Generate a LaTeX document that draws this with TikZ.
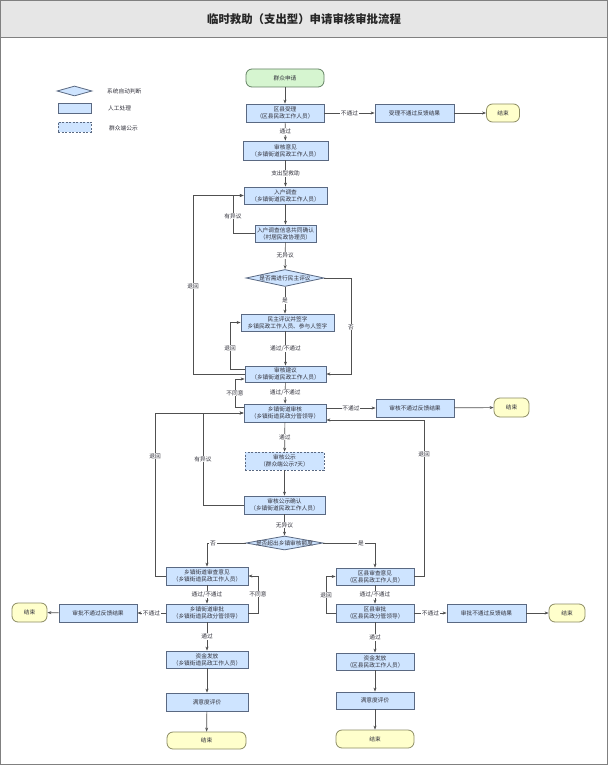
\documentclass[tikz,border=0pt]{standalone}
\usepackage{fontspec}
\setmainfont{Noto Sans CJK SC}
\usetikzlibrary{shapes.geometric,arrows.meta}
\definecolor{boxc}{RGB}{206,228,255}
\definecolor{bordc}{RGB}{90,105,130}
\definecolor{greenc}{RGB}{214,245,208}
\definecolor{greenb}{RGB}{100,130,100}
\definecolor{endc}{RGB}{255,255,204}
\definecolor{endb}{RGB}{140,140,100}
\definecolor{linec}{RGB}{80,80,80}
\definecolor{txtc}{RGB}{50,50,60}
\definecolor{titlec}{RGB}{230,230,230}
\newcommand{\fs}{\fontsize{5.7pt}{7pt}\selectfont}
\tikzset{
  proc/.style={draw=bordc, fill=boxc, line width=0.8pt, inner sep=0pt, align=center, font=\fs, text=txtc},
  pubbox/.style={proc, dash pattern=on 2pt off 1.5pt},
  termbox/.style={draw=endb, fill=endc, line width=0.8pt, rounded corners=6pt, inner sep=0pt, align=center, font=\fs, text=txtc},
  startbox/.style={draw=greenb, fill=greenc, line width=0.8pt, rounded corners=6pt, inner sep=0pt, align=center, font=\fs, text=txtc},
  dec/.style={diamond, draw=bordc, fill=boxc, line width=0.8pt, inner sep=0pt},
  dectext/.style={font=\fs, text=txtc, inner sep=0pt},
  lbl/.style={fill=white, inner sep=0.8pt, font=\fs, text=txtc},
  conn/.style={draw=linec, line width=0.7pt, -{Stealth[length=4pt,width=3pt]}},
  legtext/.style={font=\fs, text=txtc, anchor=west, inner sep=0pt}
}
\begin{document}
\begin{tikzpicture}[x=1pt,y=-1pt]
\useasboundingbox (0,0) rectangle (608,767);
% frame and title
\fill[white] (0,0) rectangle (608,767);
\draw[fill=titlec, draw=gray, line width=0.8pt] (0.5,0.5) rectangle (607.5,37);
\draw[gray, line width=0.8pt] (0.5,37) -- (0.5,764.5) -- (607.5,764.5) -- (607.5,37);
\node[font=\fontsize{11.4pt}{13pt}\selectfont\bfseries, text=black!85] (title) at (304,19) {临时救助（支出型）申请审核审批流程};
% legend
\node[dec, minimum width=35pt, minimum height=10pt] (legd) at (74.5,91) {};
\node[legtext] (legdt) at (107,91) {系统自动判断};
\node[proc, minimum width=33pt, minimum height=10pt] (legp) at (74.5,108) {};
\node[legtext] (legpt) at (108,108) {人工处理};
\node[pubbox, minimum width=33pt, minimum height=10pt] (legq) at (74.5,127) {};
\node[legtext] (legqt) at (109,128) {群众端公示};
% main column
\node[startbox, minimum width=78pt, minimum height=18pt] (apply) at (285,78) {群众申请};
\node[proc, minimum width=78pt, minimum height=18pt] (accept) at (285,113) {区县受理\\（区县民政工作人员）};
\node[proc, minimum width=79pt, minimum height=18pt] (rej1) at (414.5,113) {受理不通过反馈结果};
\node[termbox, minimum width=33pt, minimum height=18pt] (end1) at (503,113) {结束};
\node[proc, minimum width=85pt, minimum height=19pt] (opinion) at (285.5,150.5) {审核意见\\（乡镇街道民政工作人员）};
\node[proc, minimum width=83pt, minimum height=17pt] (survey) at (285.5,195.5) {入户调查\\（乡镇街道民政工作人员）};
\node[proc, minimum width=61pt, minimum height=17pt] (confirm) at (285.5,233.5) {入户调查信息共同确认\\（村居民政协理员）};
\node[dec, minimum width=78pt, minimum height=17pt] (dia1) at (285,278) {};
\node[dectext] (dia1t) at (dia1) {是否需进行民主评议};
\node[proc, minimum width=93pt, minimum height=17pt] (demo) at (287.5,322.5) {民主评议并签字\\乡镇民政工作人员、参与人签字};
\node[proc, minimum width=81pt, minimum height=16pt] (suggest) at (285.5,374) {审核建议\\（乡镇街道民政工作人员）};
\node[proc, minimum width=82pt, minimum height=18pt] (town) at (285,413) {乡镇街道审核\\（乡镇街道民政分管领导）};
\node[proc, minimum width=78pt, minimum height=18pt] (rej2) at (415,408) {审核不通过反馈结果};
\node[termbox, minimum width=35pt, minimum height=19pt] (end2) at (511.5,407.5) {结束};
\node[pubbox, minimum width=79pt, minimum height=18pt] (pub) at (284.5,461) {审核公示\\（群众端公示7天）};
\node[proc, minimum width=81pt, minimum height=18pt] (pubconf) at (284.5,505) {审核公示确认\\（乡镇街道民政工作人员）};
\node[dec, minimum width=77pt, minimum height=14pt] (dia2) at (284.5,543) {};
\node[dectext] (dia2t) at (dia2) {是否超出乡镇审核额度};
% left column
\node[proc, minimum width=82pt, minimum height=18pt] (lrev) at (207,576) {乡镇街道审查意见\\（乡镇街道民政工作人员）};
\node[proc, minimum width=82pt, minimum height=18pt] (lapp) at (207,613) {乡镇街道审批\\（乡镇街道民政分管领导）};
\node[proc, minimum width=78pt, minimum height=18pt] (lrej) at (98,613) {审批不通过反馈结果};
\node[termbox, minimum width=35pt, minimum height=19pt] (lend) at (29.5,612.5) {结束};
\node[proc, minimum width=82pt, minimum height=17pt] (lfund) at (207,659.5) {资金发放\\（乡镇街道民政工作人员）};
\node[proc, minimum width=82pt, minimum height=18pt] (lsat) at (207,702) {满意度评价};
\node[termbox, minimum width=79pt, minimum height=17pt] (lfin) at (206.5,740.5) {结束};
% right column
\node[proc, minimum width=78pt, minimum height=17pt] (rrev) at (375,576.5) {区县审查意见\\（区县民政工作人员）};
\node[proc, minimum width=78pt, minimum height=18pt] (rapp) at (375,613) {区县审批\\（区县民政分管领导）};
\node[proc, minimum width=79pt, minimum height=18pt] (rrej) at (486.5,613) {审批不通过反馈结果};
\node[termbox, minimum width=36pt, minimum height=18pt] (rend) at (567,613) {结束};
\node[proc, minimum width=78pt, minimum height=17pt] (rfund) at (375,661.5) {资金发放\\（区县民政工作人员）};
\node[proc, minimum width=78pt, minimum height=17pt] (rsat) at (375,700.5) {满意度评价};
\node[termbox, minimum width=78pt, minimum height=18pt] (rfin) at (375,739) {结束};
% corner coordinates
\coordinate (xa) at (233,0);
\coordinate (xb) at (193,0);
\coordinate (xc) at (230,0);
\coordinate (xd) at (351,0);
\coordinate (xe) at (235,0);
\coordinate (xf) at (155,0);
\coordinate (xg) at (203,0);
\coordinate (xh) at (424,0);
\coordinate (xi) at (258,0);
\coordinate (xj) at (326,0);
\coordinate (sgout) at ([yshift=5pt]suggest.west);
\coordinate (sgin) at ([yshift=-5pt]suggest.west);
\coordinate (twout) at ([yshift=6pt]town.west);
\coordinate (twin) at ([yshift=-7pt]town.east);
% straight connectors
\draw[conn] (apply) -- (accept);
\draw[conn] (accept) -- node[lbl]{不通过} (rej1);
\draw[conn] (rej1) -- (end1);
\draw[conn] (accept) -- node[lbl]{通过} (opinion);
\draw[conn] (opinion) -- node[lbl]{支出型救助} (survey);
\draw[conn] (survey) -- (confirm);
\draw[conn] (confirm) -- node[lbl]{无异议} (dia1);
\draw[conn] (dia1.south) -- node[lbl]{是} (dia1.south |- demo.north);
\draw[conn] (demo.south -| suggest.north) -- node[lbl]{通过/不通过} (suggest.north);
\draw[conn] (suggest) -- node[lbl]{通过/不通过} (town);
\draw[conn] (rej2.west -| town.east) -- node[lbl]{不通过} (rej2.west);
\draw[conn] (rej2) -- (end2);
\draw[conn] (town) -- node[lbl]{通过} (pub);
\draw[conn] (pub) -- (pubconf);
\draw[conn] (pubconf) -- node[lbl]{无异议} (dia2);
\draw[conn] (lrev) -- node[lbl]{通过/不通过} (lapp);
\draw[conn] (lapp) -- node[lbl]{不通过} (lrej);
\draw[conn] (lrej) -- (lend);
\draw[conn] (lapp) -- node[lbl]{通过} (lfund);
\draw[conn] (lfund) -- (lsat);
\draw[conn] (lsat) -- (lfin);
\draw[conn] (rrev) -- node[lbl]{通过/不通过} (rapp);
\draw[conn] (rapp) -- node[lbl]{不通过} (rrej);
\draw[conn] (rrej) -- (rend);
\draw[conn] (rapp) -- node[lbl]{通过} (rfund);
\draw[conn] (rfund) -- (rsat);
\draw[conn] (rsat) -- (rfin);
% loops
\draw[conn] (confirm.west) -| (xa |- survey.west) -- (survey.west);
\node[lbl] (l1) at (233,216) {有异议};
\draw[conn] (suggest.west) -| (xb |- survey.west) -- (survey.west);
\node[lbl] (l2) at (193,286) {退回};
\draw[conn] (sgout) -| (xc |- demo.west) -- (demo.west);
\node[lbl] (l3) at (230,348) {退回};
\draw[conn] (dia1.east) -| (xd |- suggest.east) -- (suggest.east);
\node[lbl] (l4) at (351,327) {否};
\draw[conn] (twout) -| (xe |- sgin) -- (sgin);
\node[lbl] (l5) at (235,393) {不同意};
\draw[conn] (lrev.west) -| (xf |- town.west) -- (town.west);
\node[lbl] (l6) at (155,456) {退回};
\draw[conn] (pubconf.west) -| (xg |- town.west) -- (town.west);
\node[lbl] (l7) at (203,459) {有异议};
\draw[conn] (rrev.east) -| (xh |- twin) -- (twin);
\node[lbl] (l8) at (424,454) {退回};
\draw[conn] (dia2.west) -| (lrev.north);
\node[lbl] (l9) at (213,543) {否};
\draw[conn] (dia2.east) -| (rrev.north);
\node[lbl] (l10) at (361,543) {是};
\draw[conn] (lapp.east) -| (xi |- lrev.east) -- (lrev.east);
\node[lbl] (l11) at (258,594) {不同意};
\draw[conn] (rapp.west) -| (xj |- rrev.west) -- (rrev.west);
\node[lbl] (l12) at (326,595) {退回};
\end{tikzpicture}
\end{document}
